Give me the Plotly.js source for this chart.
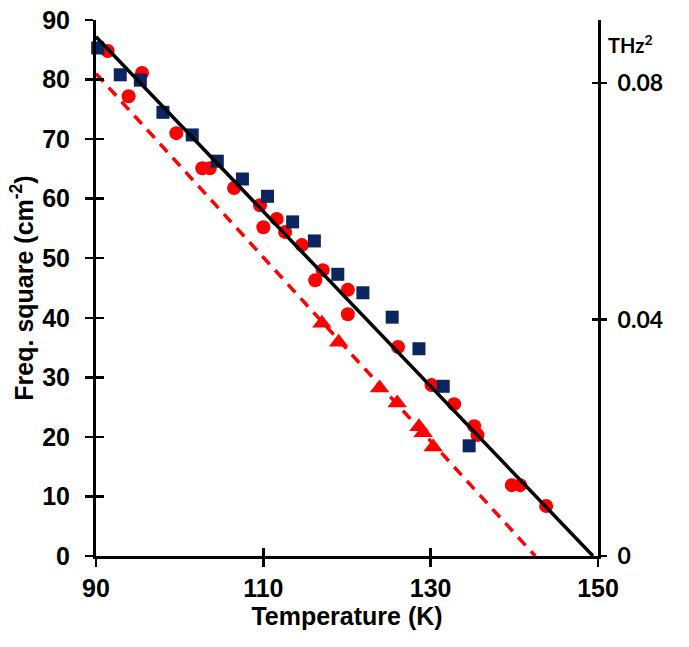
<!DOCTYPE html>
<html>
<head>
<meta charset="utf-8">
<script src="https://cdn.plot.ly/plotly-3.0.1.min.js"></script>
<style>html,body{margin:0;padding:0;background:#fff;}#chart{width:689px;height:647px;}</style>
</head>
<body>
<div id="chart"></div>
<script>
// Blue squares
const sqT = [90.2, 92.9, 95.3, 98.0, 101.5, 104.5, 107.5, 110.5, 113.5, 116.1, 118.9, 121.9, 125.4, 128.6, 131.5, 134.6];
const sqF = [85.3, 80.8, 79.9, 74.5, 70.7, 66.3, 63.3, 60.4, 56.1, 52.9, 47.3, 44.2, 40.1, 34.8, 28.5, 18.5];
// Red circles
const ciT = [91.4, 95.5, 93.9, 99.6, 102.7, 103.6, 106.5, 109.6, 110.0, 111.6, 112.6, 114.6, 116.2, 117.1, 120.1, 120.1, 126.1, 130.1, 132.8, 135.2, 135.6, 139.7, 140.7, 143.8];
const ciF = [84.8, 81.1, 77.2, 71.0, 65.1, 65.1, 61.8, 58.9, 55.2, 56.6, 54.4, 52.2, 46.3, 48.0, 44.7, 40.6, 35.1, 28.7, 25.5, 21.8, 20.3, 11.9, 11.9, 8.4];
// Red triangles
const trT = [117.0, 119.0, 123.9, 126.0, 128.6, 129.1, 130.3];
const trF = [39.1, 35.9, 28.2, 25.7, 21.7, 20.7, 18.3];
// Fit lines
const fitBlackT = [90, 149.4];
const fitBlackF = [87.2, 0];
const fitRedT = [90, 142.5];
const fitRedF = [81.0, 0];
// Ticks
const xTicks = [90, 110, 130, 150];
const yTicks = [0, 10, 20, 30, 40, 50, 60, 70, 80, 90];
const thzTicks = [0, 0.04, 0.08];
const thzLabels = ['0', '0.04', '0.08'];

const navy = '#0b2560';
const red = '#ff0000';

const traces = [
  {x: ciT, y: ciF, type: 'scatter', mode: 'markers', marker: {symbol: 'circle', size: 14, color: red}, cliponaxis: false},
  {x: sqT, y: sqF, type: 'scatter', mode: 'markers', marker: {symbol: 'square', size: 13, color: navy}, cliponaxis: false},
  {x: trT, y: trF, type: 'scatter', mode: 'markers', marker: {symbol: 'triangle-up', size: 17, color: red}, cliponaxis: false},
  {x: fitRedT, y: fitRedF, type: 'scatter', mode: 'lines', line: {color: red, width: 3.5, dash: '11px,8px'}},
  {x: fitBlackT, y: fitBlackF, type: 'scatter', mode: 'lines', line: {color: '#000', width: 3.5}},
  {x: [], y: [], type: 'scatter', xaxis: 'x2', yaxis: 'y', showlegend: false},
  {x: [], y: [], type: 'scatter', xaxis: 'x', yaxis: 'y2', showlegend: false},
  {x: [], y: [], type: 'scatter', xaxis: 'x', yaxis: 'y3', showlegend: false},
  {x: [], y: [], type: 'scatter', xaxis: 'x', yaxis: 'y4', showlegend: false}
];

const tickFont = {family: '"Liberation Sans", Arial, sans-serif', size: 25, color: '#000', weight: 'bold'};
const base = {showgrid: false, zeroline: false, fixedrange: true};

const layout = {
  width: 689, height: 647,
  margin: {l: 96, r: 91, t: 20, b: 91},
  paper_bgcolor: '#fff', plot_bgcolor: '#fff',
  showlegend: false,
  xaxis: Object.assign({}, base, {
    range: [90, 150], autorange: false, tickvals: xTicks, ticktext: xTicks.map(String),
    ticks: 'outside', ticklen: 8, tickwidth: 2.5, tickcolor: '#000',
    showline: true, linewidth: 3, linecolor: '#000',
    tickfont: tickFont, ticklabelstandoff: 0,
    title: {text: '<b>Temperature (K)</b>', font: {family: '"Liberation Sans", Arial, sans-serif', size: 25, color: '#000'}, standoff: 2}
  }),
  xaxis2: Object.assign({}, base, {
    overlaying: 'x', anchor: 'y', side: 'bottom', range: [90, 150], autorange: false, tickvals: xTicks,
    ticks: 'inside', ticklen: 8, tickwidth: 2.5, tickcolor: '#000', showticklabels: false, showline: false
  }),
  yaxis: Object.assign({}, base, {
    range: [0, 90], autorange: false, tickvals: yTicks, ticktext: yTicks.map(String),
    ticks: 'outside', ticklen: 8, tickwidth: 2.5, tickcolor: '#000',
    showline: true, linewidth: 3, linecolor: '#000',
    tickfont: tickFont, ticklabelstandoff: 10,
    title: {text: '<b>Freq. square (cm<sup>-2</sup>)</b>', font: {family: '"Liberation Sans", Arial, sans-serif', size: 25, color: '#000'}, standoff: 2}
  }),
  yaxis2: Object.assign({}, base, {
    overlaying: 'y', side: 'right', anchor: 'x', range: [0, 0.0907], autorange: false,
    tickvals: thzTicks, ticktext: thzLabels,
    ticks: 'outside', ticklen: 6, tickwidth: 2.5, tickcolor: '#000',
    showline: true, linewidth: 3, linecolor: '#000',
    tickfont: {family: 'Lato, "Open Sans", sans-serif', size: 23, color: '#000', weight: 'bold'}, ticklabelstandoff: 6
  }),
  yaxis3: Object.assign({}, base, {
    overlaying: 'y', anchor: 'x', side: 'left', range: [0, 90], autorange: false, tickvals: yTicks,
    ticks: 'inside', ticklen: 8, tickwidth: 2.5, tickcolor: '#000', showticklabels: false, showline: false
  }),
  yaxis4: Object.assign({}, base, {
    overlaying: 'y', side: 'right', anchor: 'x', range: [0, 0.0907], autorange: false, tickvals: thzTicks,
    ticks: 'inside', ticklen: 6, tickwidth: 2.5, tickcolor: '#000', showticklabels: false, showline: false
  }),
  annotations: [{
    xref: 'paper', yref: 'paper', x: 1.015, y: 0.955, xanchor: 'left', yanchor: 'middle', showarrow: false,
    text: '<b>THz<sup>2</sup></b>', font: {family: 'Lato, "Open Sans", sans-serif', size: 20, color: '#000'}
  }]
};

Plotly.newPlot('chart', traces, layout, {displayModeBar: false, staticPlot: true});
</script>
</body>
</html>
